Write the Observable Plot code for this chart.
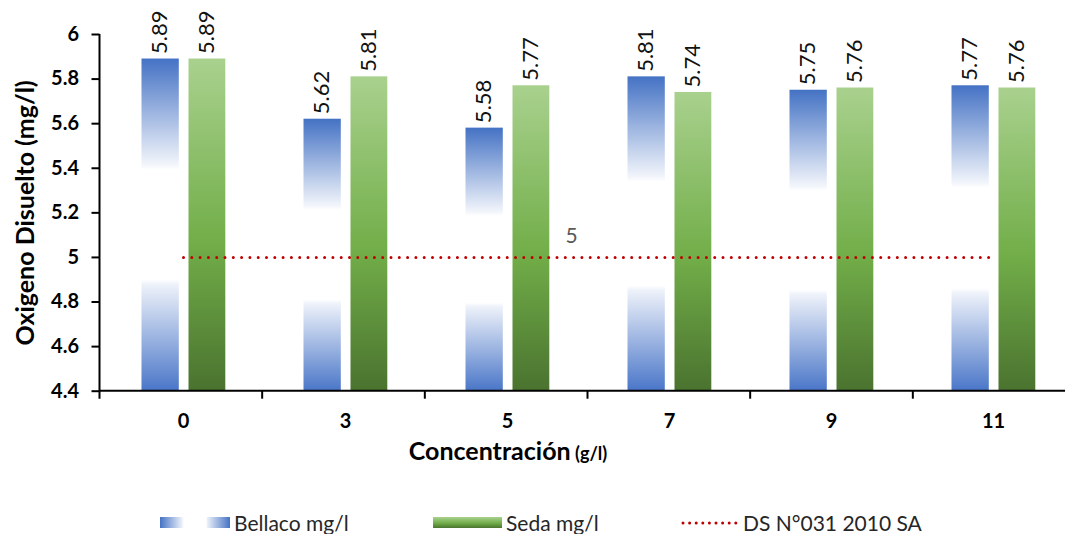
<!DOCTYPE html>
<html><head><meta charset="utf-8">
<script src="https://cdn.jsdelivr.net/npm/d3@7"></script>
<script src="https://cdn.jsdelivr.net/npm/@observablehq/plot@0.6"></script>
<style>
body{margin:0;background:#fff;font-family:Lato,sans-serif}
#wrap{position:relative;width:1065px;height:534px;overflow:hidden;background:#fff}
.leg{position:absolute;top:510px;height:24px;display:flex;align-items:center;font-size:21px;color:#262626;white-space:nowrap}
.leg svg{display:block;margin-right:4px}
</style></head><body>
<div id="wrap"><div id="chart"></div>
<div class="leg" style="left:160px">
  <svg width="70" height="11"><defs><linearGradient id="lgB" x1="0" y1="0" x2="1" y2="0">
    <stop offset="0" stop-color="#4472C4"/><stop offset="0.33" stop-color="#f4f7fc"/><stop offset="0.34" stop-color="#fff"/>
    <stop offset="0.66" stop-color="#fff"/><stop offset="0.67" stop-color="#eef2fa"/><stop offset="1" stop-color="#4472C4"/></linearGradient></defs>
    <rect width="70" height="11" fill="url(#lgB)"/></svg><span id="legB"></span></div>
<div class="leg" style="left:433px">
  <svg width="69" height="11"><defs><linearGradient id="lgG" x1="0" y1="0" x2="0" y2="1">
    <stop offset="0" stop-color="#A9D18E"/><stop offset="0.55" stop-color="#72AE49"/><stop offset="1" stop-color="#4A742F"/></linearGradient></defs>
    <rect width="69" height="11" fill="url(#lgG)"/></svg><span id="legG"></span></div>
<div class="leg" style="left:681px">
  <svg width="58" height="11"><line x1="2" x2="56" y1="6" y2="6" stroke="#C00000" stroke-width="3" stroke-dasharray="0 6.6" stroke-linecap="round"/></svg><span id="legR"></span></div>
</div>
<script>
const concentrations = ["0", "3", "5", "7", "9", "11"];
const bellaco = [5.89, 5.62, 5.58, 5.81, 5.75, 5.77];
const seda = [5.89, 5.81, 5.77, 5.74, 5.76, 5.76];
const standard = [5, 5, 5, 5, 5, 5];
const yTicks = [4.4, 4.6, 4.8, 5, 5.2, 5.4, 5.6, 5.8, 6];
const seriesNames = ["Bellaco mg/l", "Seda mg/l", "DS N°031 2010 SA"];
const yTitle = "Oxigeno Disuelto (mg/l)";
const xTitle = "Concentración";
const xUnit = "(g/l)";
const refLabel = "5";

document.getElementById("legB").textContent = seriesNames[0];
document.getElementById("legG").textContent = seriesNames[1];
document.getElementById("legR").textContent = seriesNames[2];

const rows = concentrations.map((c, i) => ({conc: c, bellaco: bellaco[i], seda: seda[i], std: standard[i]}));
const yMin = yTicks[0], yMax = yTicks[yTicks.length - 1];

const defsMark = () => {
  const g = d3.create("svg:g");
  const defs = g.append("defs");
  const b = defs.append("linearGradient").attr("id", "gBlue").attr("x1", 0).attr("y1", 0).attr("x2", 0).attr("y2", 1);
  [[0, "#4472C4"], [0.32, "#f2f5fb"], [0.335, "#ffffff"], [0.665, "#ffffff"], [0.68, "#eef2fa"], [1, "#4a76c8"]]
    .forEach(([o, c]) => b.append("stop").attr("offset", o).attr("stop-color", c));
  const gr = defs.append("linearGradient").attr("id", "gGreen").attr("x1", 0).attr("y1", 0).attr("x2", 0).attr("y2", 1);
  [[0, "#A9D18E"], [0.55, "#72AE49"], [1, "#4A732F"]]
    .forEach(([o, c]) => gr.append("stop").attr("offset", o).attr("stop-color", c));
  return g.node();
};

const axesMark = (index, scales, values, dim) => {
  const g = d3.create("svg:g").attr("stroke", "#000").attr("stroke-width", 2);
  const x0 = dim.marginLeft, x1 = dim.width - dim.marginRight;
  const yb = scales.y(yMin), yt = scales.y(yMax);
  g.append("line").attr("x1", x0).attr("x2", x0).attr("y1", yt).attr("y2", yb + 8);
  g.append("line").attr("x1", x0).attr("x2", x1).attr("y1", yb).attr("y2", yb);
  const n = concentrations.length, step = (x1 - x0) / n;
  for (let k = 1; k <= n; k++) {
    g.append("line").attr("x1", x0 + k * step).attr("x2", x0 + k * step).attr("y1", yb).attr("y2", yb + 8);
  }
  return g.node();
};

const xTitleMark = (index, scales, values, dim) => {
  const t = d3.create("svg:text")
    .attr("x", 508).attr("y", scales.y(yMin) + 69)
    .attr("text-anchor", "middle").attr("font-weight", "bold").attr("fill", "#000");
  t.append("tspan").attr("font-size", 25).text(xTitle);
  t.append("tspan").attr("font-size", 18).text(" " + xUnit);
  return t.node();
};

const chart = Plot.plot({
  width: 1065,
  height: 495,
  marginLeft: 99.5,
  marginRight: -10.5,
  marginTop: 34,
  marginBottom: 104.3,
  style: {fontFamily: "Lato, sans-serif", fontSize: "20px", color: "#000", background: "white", overflow: "visible"},
  x: {domain: concentrations, padding: 0, label: null},
  y: {domain: [yMin, yMax], label: null},
  marks: [
    defsMark,
    Plot.barY(rows, {x: "conc", y1: yMin, y2: "bellaco", fill: "url(#gBlue)", insetLeft: 39.5, insetRight: 85.2}),
    Plot.barY(rows, {x: "conc", y1: yMin, y2: "seda", fill: "url(#gGreen)", insetLeft: 86.5, insetRight: 38.7}),
    Plot.lineY(rows, {x: "conc", y: "std", stroke: "#C00000", strokeWidth: 3, strokeDasharray: "0 8.3", strokeLinecap: "round"}),
    Plot.text([rows[2]], {x: "conc", y: "std", text: () => refLabel, dx: 64, dy: -21, fill: "#595959", fontSize: 21}),
    Plot.text(rows, {x: "conc", y: "bellaco", text: d => d.bellaco.toFixed(2), rotate: -90, textAnchor: "start", lineAnchor: "middle", dx: -23.5, dy: -5, fontSize: 22, fill: "#111"}),
    Plot.text(rows, {x: "conc", y: "seda", text: d => d.seda.toFixed(2), rotate: -90, textAnchor: "start", lineAnchor: "middle", dx: 23, dy: -5, fontSize: 22, fill: "#111"}),
    Plot.axisY({ticks: yTicks, tickFormat: d => String(+d.toFixed(1)), tickSize: 8, tickPadding: 13, strokeWidth: 2, fontWeight: "bold", fontSize: 20, label: null}),
    Plot.axisX({tickSize: 0, tickPadding: 23, fontWeight: "bold", fontSize: 20, label: null}),
    Plot.text([yTitle], {frameAnchor: "left", rotate: -90, textAnchor: "middle", dx: -74.5, text: d => d, fontWeight: "bold", fontSize: 25, fill: "#000"}),
    axesMark,
    xTitleMark
  ]
});
document.getElementById("chart").appendChild(chart);
</script>
</body></html>
